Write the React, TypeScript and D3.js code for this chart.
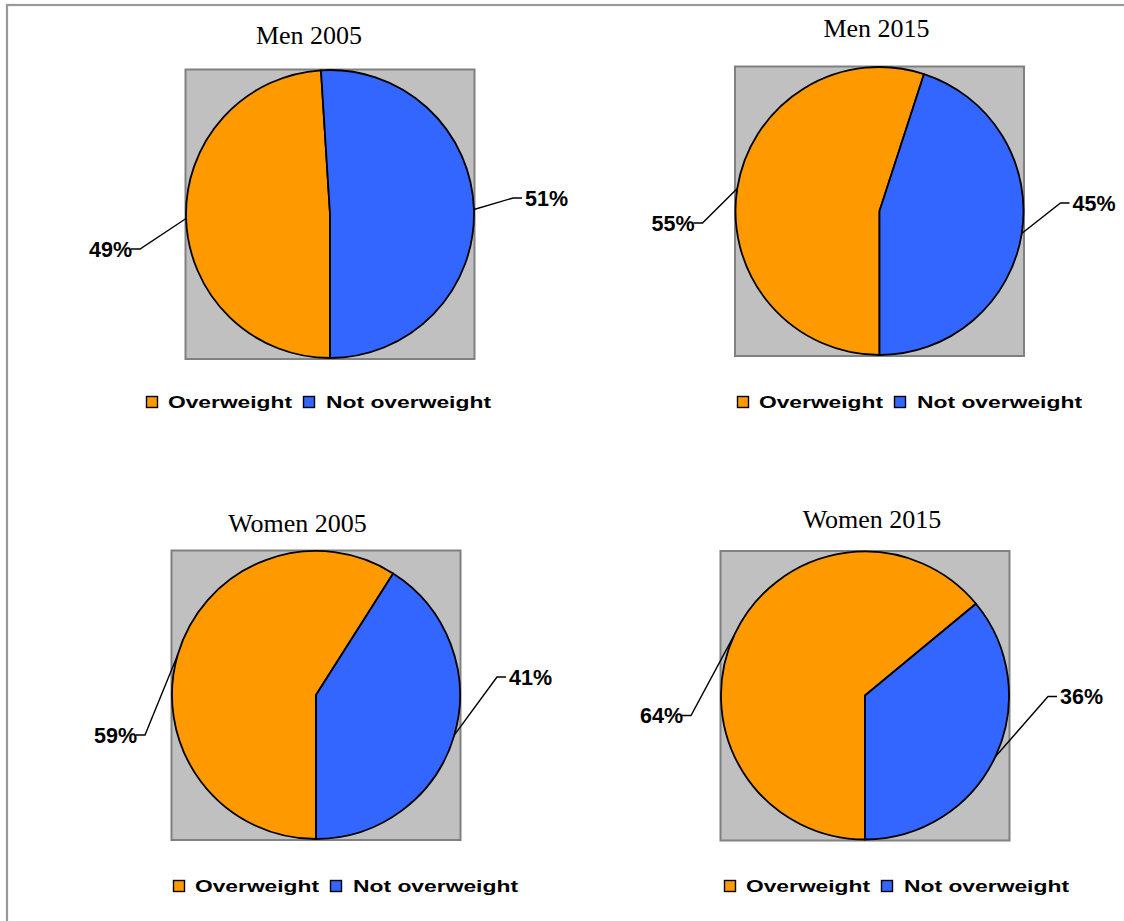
import React from "react";
import * as d3 from "d3";

// ---- data ----
const chartTitles = ["Men 2005", "Men 2015", "Women 2005", "Women 2015"];
const categories = ["Overweight", "Not overweight"];
const overweight = [49, 55, 59, 64];
const notOverweight = [51, 45, 41, 36];
const colors = ["#FF9900", "#3366FF"];

// ---- layout (per chart) ----
const centers: [number, number][] = [
  [330, 214],
  [879.5, 211],
  [316, 695],
  [865, 695.5],
];
const titlePos: [number, number][] = [
  [309, 44],
  [876.5, 36.7],
  [297.5, 531.7],
  [872, 528.3],
];
// leader elbows relative to pie centre: [overweight, not overweight]
const elbows: [number, number][][] = [
  [[-190, 35], [183, -16]],
  [[-177, 12], [181, -8]],
  [[-171, 40], [181, -18]],
  [[-174, 20], [183, 1]],
];
const legendPos: [number, number][] = [
  [146, 402],
  [737, 402],
  [173, 886],
  [724, 886],
];

const R = 144;
const W = 1124;
const H = 921;

const pie = d3
  .pie<number>()
  .sort(null)
  .value((d) => d)
  .startAngle(Math.PI)
  .endAngle(3 * Math.PI);
const arc = d3.arc<d3.PieArcDatum<number>>().innerRadius(0).outerRadius(R);

export default function App() {
  return (
    <svg
      width={W}
      height={H}
      style={{ position: "absolute", left: 0, top: 0, background: "#fff" }}
    >
      <rect x={7} y={5} width={1300} height={1100} fill="none" stroke="#999" strokeWidth={2.2} />
      {chartTitles.map((title, i) => {
        const [cx, cy] = centers[i];
        const values = [overweight[i], notOverweight[i]];
        const arcs = pie(values);
        const [lx, ly] = legendPos[i];
        return (
          <g key={title}>
            <text
              x={titlePos[i][0]}
              y={titlePos[i][1]}
              textAnchor="middle"
              fontFamily="'Liberation Serif', 'Times New Roman', serif"
              fontSize={26}
              fill="#000"
            >
              {title}
            </text>
            <rect
              x={cx - 144.5}
              y={cy - 144.5}
              width={289}
              height={289.5}
              fill="#C0C0C0"
              stroke="#808080"
              strokeWidth={2}
            />
            <g transform={`translate(${cx},${cy})`}>
              {arcs.map((a, j) => (
                <path key={j} d={arc(a) || ""} fill={colors[j]} stroke="#000" strokeWidth={1.8} strokeLinejoin="round" />
              ))}
              {arcs.map((a, j) => {
                const mid = (a.startAngle + a.endAngle) / 2;
                const sx = Math.sin(mid) * R;
                const sy = -Math.cos(mid) * R;
                const [ex, ey] = elbows[i][j];
                const left = ex < 0;
                const hx = left ? ex - 9 : ex + 9;
                const tx = left ? ex - 8 : ex + 12;
                const pct = Math.round((values[j] / d3.sum(values)) * 100);
                return (
                  <g key={"l" + j}>
                    <polyline
                      points={`${sx},${sy} ${ex},${ey} ${hx},${ey}`}
                      fill="none"
                      stroke="#000"
                      strokeWidth={1.4}
                    />
                    <text
                      x={tx}
                      y={ey + 7.8}
                      textAnchor={left ? "end" : "start"}
                      fontFamily="'Liberation Sans', Arial, sans-serif"
                      fontWeight="bold"
                      fontSize={22}
                      textLength={43}
                      lengthAdjust="spacingAndGlyphs"
                      fill="#000"
                    >
                      {pct}%
                    </text>
                  </g>
                );
              })}
            </g>
            <g fontFamily="'Liberation Sans', Arial, sans-serif" fontWeight="bold" fontSize={17} fill="#000">
              <rect x={lx + 0.5} y={ly - 5.5} width={11} height={11} fill={colors[0]} stroke="#000" strokeWidth={1.4} />
              <text x={lx + 22} y={ly + 6} textLength={124} lengthAdjust="spacingAndGlyphs">
                {categories[0]}
              </text>
              <rect x={lx + 157.5} y={ly - 5.5} width={11} height={11} fill={colors[1]} stroke="#000" strokeWidth={1.4} />
              <text x={lx + 180} y={ly + 6} textLength={165} lengthAdjust="spacingAndGlyphs">
                {categories[1]}
              </text>
            </g>
          </g>
        );
      })}
    </svg>
  );
}
